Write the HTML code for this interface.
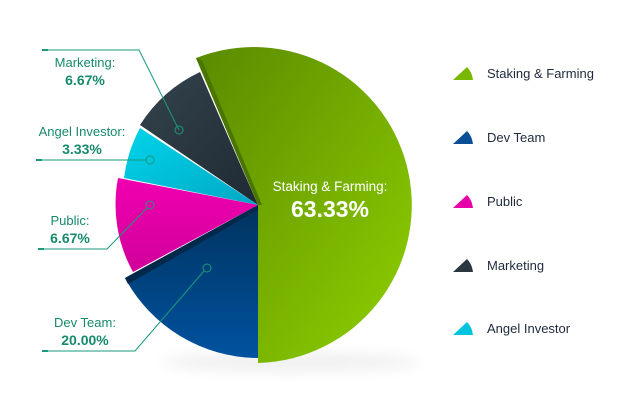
<!DOCTYPE html>
<html><head><meta charset="utf-8"><style>
html,body{margin:0;padding:0;background:#fff;}
svg{display:block;font-family:"Liberation Sans",sans-serif;}
</style></head><body>
<svg width="640" height="403" viewBox="0 0 640 403" xmlns="http://www.w3.org/2000/svg">
<defs>
<linearGradient id="g" x1="0" y1="0" x2="1" y2="1"><stop offset="0" stop-color="#5a8a00"/><stop offset="1" stop-color="#8fd000"/></linearGradient>
<linearGradient id="d" x1="0" y1="0" x2="0" y2="1"><stop offset="0" stop-color="#00335e"/><stop offset="1" stop-color="#0052a0"/></linearGradient>
<linearGradient id="p" x1="0" y1="0" x2="0" y2="1"><stop offset="0" stop-color="#f000b0"/><stop offset="1" stop-color="#d0009a"/></linearGradient>
<linearGradient id="c" x1="0" y1="0" x2="1" y2="1"><stop offset="0" stop-color="#00d4ea"/><stop offset="1" stop-color="#00a8c4"/></linearGradient>
<linearGradient id="k" x1="0" y1="0" x2="1" y2="1"><stop offset="0" stop-color="#34434d"/><stop offset="1" stop-color="#1e2a33"/></linearGradient>
<filter id="sh" x="-20%" y="-50%" width="140%" height="200%"><feGaussianBlur stdDeviation="7"/></filter>
</defs>
<ellipse cx="290" cy="362" rx="130" ry="10" fill="#000" opacity="0.06" filter="url(#sh)"/>
<path d="M258,205 L200,72 A143,143 0 0 0 140,125 Z" fill="url(#k)"/>
<path d="M258,205 L140,128 A142,142 0 0 0 124,178 Z" fill="url(#c)"/>
<path d="M258,205 L118,178 A140,140 0 0 0 133,272 Z" fill="url(#p)"/>
<path d="M258,205 L125,278 A152,152 0 0 0 258,358 Z" fill="url(#d)"/>
<path d="M125,278 L258,205 L258,210 L128,284 Z" fill="#00284a"/>
<path d="M258,205 L196,58 A158,158 0 1 1 258,363 Z" fill="url(#g)"/>
<path d="M196,58 L258,205 L262,205 L202,60 Z" fill="#4a7600"/>
<text x="330" y="191" font-size="13.5" fill="#fff" text-anchor="middle">Staking &amp; Farming:</text>
<text x="330" y="217" font-size="23" font-weight="bold" fill="#fff" text-anchor="middle">63.33%</text>
<g stroke="#1a9a7a" stroke-width="1" fill="none">
<path d="M43,50 H139 L179,130"/><circle cx="179" cy="130" r="4"/>
<path d="M36,160 H146"/><circle cx="150" cy="160" r="4"/>
<path d="M38,249 H107 L147,208"/><circle cx="150" cy="205" r="4"/>
<path d="M42,351 H135 L204,271"/><circle cx="207" cy="268" r="4"/>
</g>
<g fill="#1a9a7a"><rect x="42" y="49" width="6" height="2"/><rect x="36" y="159" width="6" height="2"/><rect x="38" y="248" width="6" height="2"/><rect x="42" y="350" width="6" height="2"/></g>
<g fill="#178a6c" text-anchor="middle">
<text x="85" y="67" font-size="13">Marketing:</text>
<text x="85" y="85" font-size="14" font-weight="bold">6.67%</text>
<text x="82" y="136" font-size="13">Angel Investor:</text>
<text x="82" y="154" font-size="14" font-weight="bold">3.33%</text>
<text x="70" y="225" font-size="13">Public:</text>
<text x="70" y="243" font-size="14" font-weight="bold">6.67%</text>
<text x="85" y="327" font-size="13">Dev Team:</text>
<text x="85" y="345" font-size="14" font-weight="bold">20.00%</text>
</g>
<g>
<path d="M453,80 L467,67 Q472,72 473,80 Z" fill="#7ab800"/>
<path d="M453,144 L467,131 Q472,136 473,144 Z" fill="#0a4f95"/>
<path d="M453,208 L467,195 Q472,200 473,208 Z" fill="#e600a8"/>
<path d="M453,272 L467,259 Q472,264 473,272 Z" fill="#2a3740"/>
<path d="M453,335 L467,322 Q472,327 473,335 Z" fill="#00c4de"/>
</g>
<g fill="#1e2a3a" font-size="13">
<text x="487" y="78">Staking &amp; Farming</text>
<text x="487" y="142">Dev Team</text>
<text x="487" y="206">Public</text>
<text x="487" y="270">Marketing</text>
<text x="487" y="333">Angel Investor</text>
</g>
</svg>
</body></html>
